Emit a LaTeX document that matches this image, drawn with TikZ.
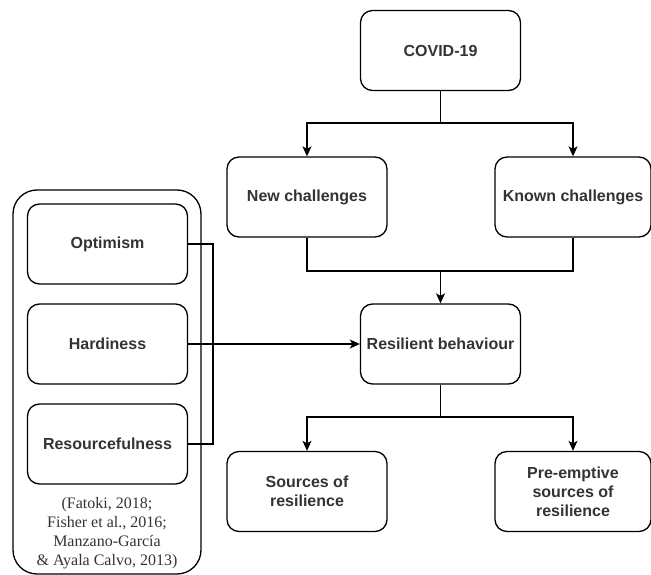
\documentclass[tikz,border=0pt]{standalone}
\usepackage{fontspec}
\setmainfont{Liberation Sans}
\newfontfamily\citefont{Liberation Serif}
\usetikzlibrary{arrows.meta}
\definecolor{txtgray}{RGB}{51,51,51}
\begin{document}
\begin{tikzpicture}[x=1pt,y=-1pt,line width=1.3pt,
  blk/.style={draw,rounded corners=12pt,minimum width=160pt,minimum height=80pt,align=center,
    font=\fontsize{16}{19}\selectfont\bfseries,text=txtgray},
  arr/.style={-{Stealth[length=10pt,width=9pt,inset=2.5pt]}}]
\useasboundingbox (0,0) rectangle (651,575);
\node[draw,rounded corners=24pt,minimum width=188pt,minimum height=384pt] (grp) at (107,382) {};
\node[blk] (optim) at (107.5,244) {Optimism};
\node[blk] (hard) at (107.5,344) {Hardiness};
\node[blk] (resource) at (107.5,444) {Resourcefulness};
\node[align=center,text=txtgray,font=\citefont\fontsize{16}{19}\selectfont] (cite) at (107,533.5)
  {(Fatoki, 2018;\\Fisher et al., 2016;\\Manzano-García\\\& Ayala Calvo, 2013)};
\node[blk] (covid) at (440.5,50.5) {COVID-19};
\node[blk] (new) at (307,197) {New challenges};
\node[blk,minimum width=156pt] (known) at (573,197) {Known challenges};
\node[blk] (resil) at (440.5,344) {Resilient behaviour};
\node[blk] (sources) at (307,491.5) {Sources of\\resilience};
\node[blk,minimum width=156pt] (preempt) at (573,491.5) {Pre-emptive\\sources of\\resilience};
\coordinate (split1) at (440.5,123);
\coordinate (join1) at (440.5,271);
\coordinate (split2) at (440.5,417);
\coordinate (brk) at (213,344);
\draw (covid) -- (split1);
\draw[arr] (split1) -| (new);
\draw[arr] (split1) -| (known);
\draw (new) |- (join1) -| (known);
\draw[arr] (join1) -- (resil);
\draw (resil) -- (split2);
\draw[arr] (split2) -| (sources);
\draw[arr] (split2) -| (preempt);
\draw (optim.east) -| (brk);
\draw (resource.east) -| (brk);
\draw[arr] (hard) -- (resil);
\end{tikzpicture}
\end{document}
